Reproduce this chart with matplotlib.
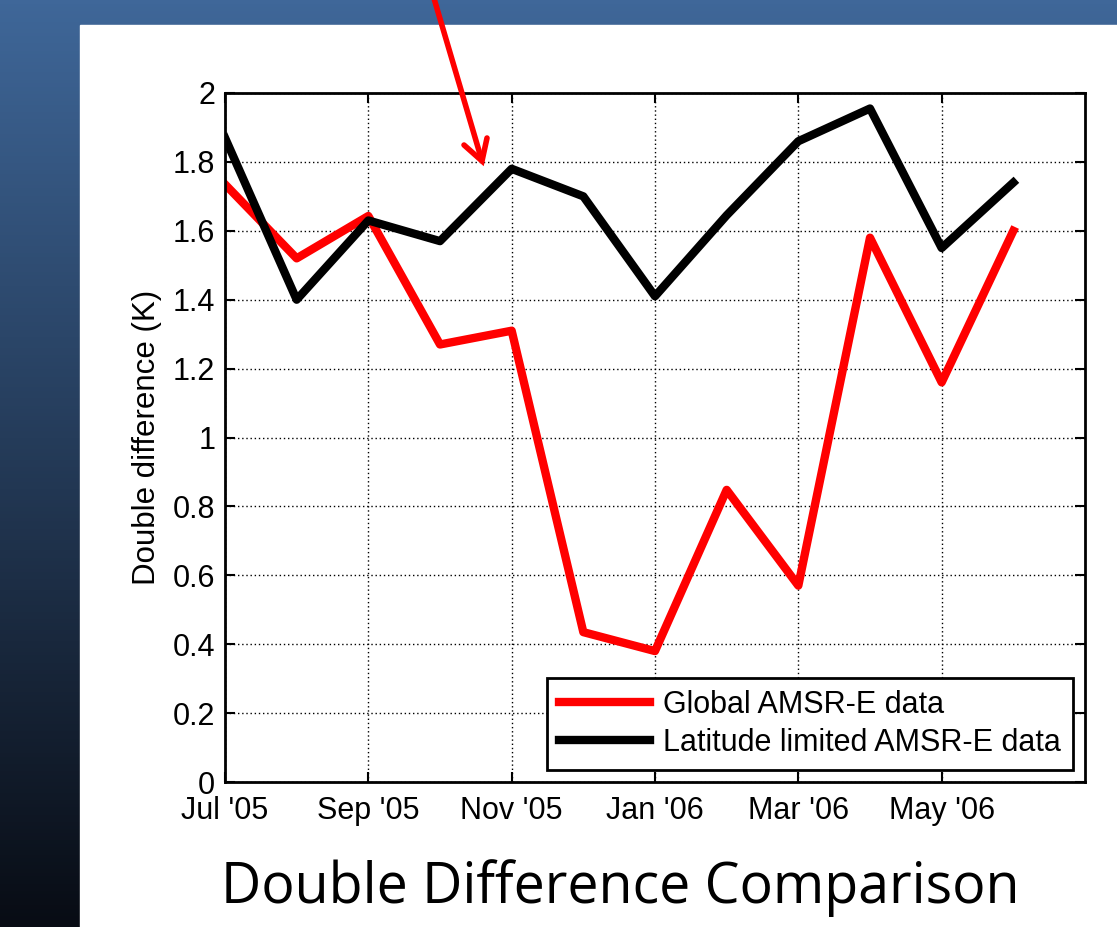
import numpy as np
import matplotlib
matplotlib.use("Agg")
import matplotlib.pyplot as plt
from matplotlib.patches import Rectangle

months = ["Jul '05", "Aug '05", "Sep '05", "Oct '05", "Nov '05", "Dec '05",
          "Jan '06", "Feb '06", "Mar '06", "Apr '06", "May '06", "Jun '06"]
global_dd = [1.735, 1.52, 1.643, 1.27, 1.31, 0.435, 0.38, 0.848, 0.57, 1.58, 1.16, 1.60]
latlim_dd = [1.87, 1.40, 1.63, 1.57, 1.78, 1.70, 1.41, 1.645, 1.86, 1.955, 1.55, 1.74]
tick_labels = ["Jul '05", "Sep '05", "Nov '05", "Jan '06", "Mar '06", "May '06"]

W, H = 1117, 927
fig = plt.figure(figsize=(W / 100, H / 100), dpi=100)

# slide background: blue gradient with white panel
bg = fig.add_axes([0, 0, 1, 1])
grad = np.linspace(0, 1, 256)[:, None]
top = np.array([0x3f, 0x67, 0x99]) / 255
bot = np.array([0x08, 0x0c, 0x14]) / 255
img = top[None, None, :] * (1 - grad[..., None]) + bot[None, None, :] * grad[..., None]
bg.imshow(img, aspect="auto", extent=[0, W, H, 0])
bg.add_patch(Rectangle((80, 25), W - 80, H - 25, color="white"))
bg.set_xlim(0, W)
bg.set_ylim(H, 0)
bg.axis("off")

# plot axes
ax = fig.add_axes([225 / W, 1 - 782 / H, (1085 - 225) / W, (782 - 93) / H])
x = np.arange(len(months))
ax.plot(x, global_dd, color="red", lw=6, label="Global AMSR-E data")
ax.plot(x, latlim_dd, color="black", lw=6, label="Latitude limited AMSR-E data")
ax.set_xlim(0, 12)
ax.set_ylim(0, 2)
ax.set_xticks(np.arange(0, 12, 2))
ax.set_xticklabels(tick_labels)
ax.set_yticks(np.arange(0, 2.01, 0.2))
ax.set_yticklabels(["0", "0.2", "0.4", "0.6", "0.8", "1", "1.2", "1.4", "1.6", "1.8", "2"])
ax.grid(True, color="black", linestyle=(0, (1, 2)), linewidth=1)
ax.tick_params(direction="in", length=7, width=1.5, top=True, right=True,
               labelsize=22, pad=7)
ax.tick_params(axis="x", pad=10)
for s in ax.spines.values():
    s.set_linewidth(2)
for lab in ax.get_xticklabels() + ax.get_yticklabels():
    lab.set_family("Liberation Sans")
ax.set_ylabel("Double difference (K)", fontsize=22.5, family="Liberation Sans", labelpad=8)

leg = ax.legend(loc="lower right", prop={"family": "Liberation Sans", "size": 22},
                frameon=True, fancybox=False, edgecolor="black", handlelength=3.0,
                borderaxespad=0.4, labelspacing=0.25, handletextpad=0.4, borderpad=0.4)
leg.get_frame().set_linewidth(2)
leg.get_frame().set_alpha(1)

# red arrow from the top of the slide, drawn above everything
ov = fig.add_axes([0, 0, 1, 1])
ov.set_xlim(0, W)
ov.set_ylim(H, 0)
ov.axis("off")
ov.patch.set_alpha(0)
ov.plot([433, 482], [-5, 161], color="red", lw=4, solid_capstyle="butt")
ov.plot([464, 482, 487], [145, 161, 138], color="red", lw=4,
        solid_capstyle="round", solid_joinstyle="miter")

fig.text(620 / W, 1 - 888 / H, "Double Difference Comparison", fontsize=40,
         family="Open Sans", ha="center", va="center")

fig.savefig("out.png", dpi=100)
